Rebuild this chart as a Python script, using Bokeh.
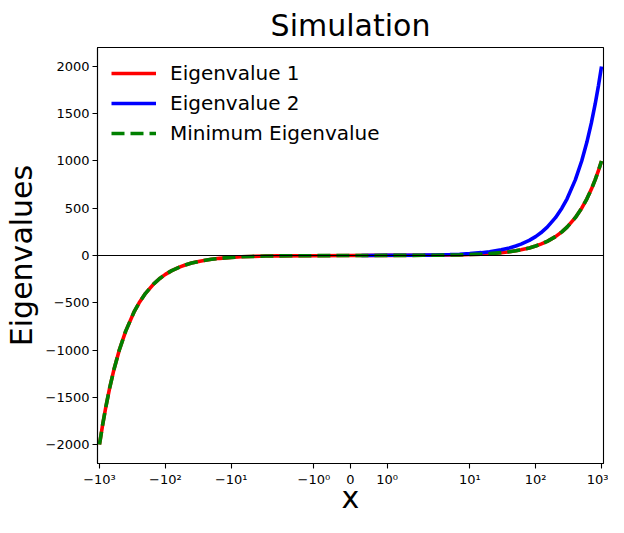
import numpy as np
from bokeh.plotting import figure
from bokeh.models import FixedTicker, Span
from bokeh.embed import file_html
from bokeh.resources import INLINE

# ---- data ----
x_vals = [-1000, -900, -800, -700, -600, -500, -400, -300, -250, -200,
          -150, -120, -100, -80, -60, -50, -40, -30, -20, -15,
          -10, -7, -5, -3, -2, -1, 0, 1, 2, 3, 5, 7, 10, 15, 20, 30, 40,
          50, 60, 80, 100, 120, 150, 200, 250, 300, 400,
          500, 600, 700, 800, 900, 1000]
eig1 = [-2000, -1800, -1600, -1400, -1200, -1000, -800, -600, -500, -400,
        -300, -240, -200, -160, -120, -100, -80, -60, -40, -30,
        -20, -14, -10, -6, -4, -2, 0, 1, 2, 3, 5, 7, 10, 15, 20, 30, 40,
        50, 60, 80, 100, 120, 150, 200, 250, 300, 400,
        500, 600, 700, 800, 900, 1000]
x_vals2 = [0.3, 1, 2, 3, 5, 7, 10, 15, 20, 30, 40, 50, 60, 80, 100, 120, 150,
           200, 250, 300, 400, 500, 600, 700, 800, 900, 1000]
eig2 = [0.6, 2, 4, 6, 10, 14, 20, 30, 40, 60, 80, 100, 120, 160, 200, 240, 300,
        400, 500, 600, 800, 1000, 1200, 1400, 1600, 1800, 2000]
min_eig = [-2000, -1800, -1600, -1400, -1200, -1000, -800, -600, -500, -400,
           -300, -240, -200, -160, -120, -100, -80, -60, -40, -30,
           -20, -14, -10, -6, -4, -2, 0, 1, 2, 3, 5, 7, 10, 15, 20, 30, 40,
           50, 60, 80, 100, 120, 150, 200, 250, 300, 400,
           500, 600, 700, 800, 900, 1000]

x_ticks = [-1000, -100, -10, -1, 0, 1, 10, 100, 1000]
x_tick_labels = ["\u221210\u00b3", "\u221210\u00b2", "\u221210\u00b9", "\u221210\u2070", "0",
                 "10\u2070", "10\u00b9", "10\u00b2", "10\u00b3"]
y_ticks = [-2000, -1500, -1000, -500, 0, 500, 1000, 1500, 2000]
y_tick_labels = ["\u22122000", "\u22121500", "\u22121000", "\u2212500", "0",
                 "500", "1000", "1500", "2000"]

# ---- symmetric-log x scale (linthresh 2, linscale 1) ----
LINTHRESH = 2.0
LINSCALE_ADJ = 1.0 / (1.0 - 0.1)


def symlog(v):
    v = np.asarray(v, dtype=float)
    a = np.abs(v)
    lin = v / LINTHRESH * LINSCALE_ADJ
    logp = np.sign(v) * (LINSCALE_ADJ + np.log10(np.maximum(a, 1e-12) / LINTHRESH))
    return np.where(a <= LINTHRESH, lin, logp)


xmax = float(symlog(1000)) + 0.03
FONT = "DejaVu Sans"

p = figure(width=608, height=517, output_backend="svg", toolbar_location=None,
           x_range=(-xmax, xmax), y_range=(-2200, 2200), title="Simulation",
           min_border_left=80, min_border_right=5, min_border_top=0,
           min_border_bottom=30)

p.title.text_font = FONT
p.title.text_font_size = "30px"
p.title.text_font_style = "normal"
p.title.align = "center"
p.title.text_color = "black"

p.line(symlog(x_vals), eig1, line_color="red", line_width=3.6, legend_label="Eigenvalue 1")
p.line(symlog(x_vals2), eig2, line_color="blue", line_width=3.6, legend_label="Eigenvalue 2")
p.line(symlog(x_vals), min_eig, line_color="green", line_width=3.6, line_dash="13 6",
       legend_label="Minimum Eigenvalue")

p.add_layout(Span(location=0, dimension="width", line_color="black", line_width=1.1))

p.xgrid.visible = False
p.ygrid.visible = False
p.outline_line_color = "black"
p.outline_line_width = 1.1
p.background_fill_color = "white"
p.border_fill_color = "white"

xt = [float(t) for t in symlog(x_ticks)]
p.xaxis.ticker = FixedTicker(ticks=xt, minor_ticks=[])
p.xaxis.major_label_overrides = {t: lab for t, lab in zip(xt, x_tick_labels)}
p.yaxis.ticker = FixedTicker(ticks=y_ticks, minor_ticks=[])
p.yaxis.major_label_overrides = {t: lab for t, lab in zip(y_ticks, y_tick_labels)}

for ax in (p.xaxis, p.yaxis):
    ax.axis_line_color = "black"
    ax.axis_line_width = 1.1
    ax.major_tick_line_color = "black"
    ax.major_tick_line_width = 1.1
    ax.major_tick_out = 5
    ax.major_tick_in = 0
    ax.minor_tick_line_color = None
    ax.major_label_text_font = FONT
    ax.major_label_text_font_size = "13px"
    ax.major_label_text_color = "black"
    ax.major_label_standoff = 3
    ax.axis_label_text_font = FONT
    ax.axis_label_text_font_size = "30px"
    ax.axis_label_text_font_style = "normal"
    ax.axis_label_text_color = "black"

p.xaxis.axis_label = "x"
p.yaxis.axis_label = "Eigenvalues"
p.xaxis.axis_label_standoff = -10
p.yaxis.axis_label_standoff = 4

lg = p.legend[0]
lg.location = "top_left"
lg.margin = 4
lg.padding = 10
lg.spacing = 6
lg.glyph_width = 45
lg.glyph_height = 20
lg.label_standoff = 14
lg.label_text_font = FONT
lg.label_text_font_size = "20px"
lg.label_text_color = "black"
lg.border_line_alpha = 0
lg.background_fill_alpha = 0

open("out.html", "w").write(file_html(p, INLINE))
